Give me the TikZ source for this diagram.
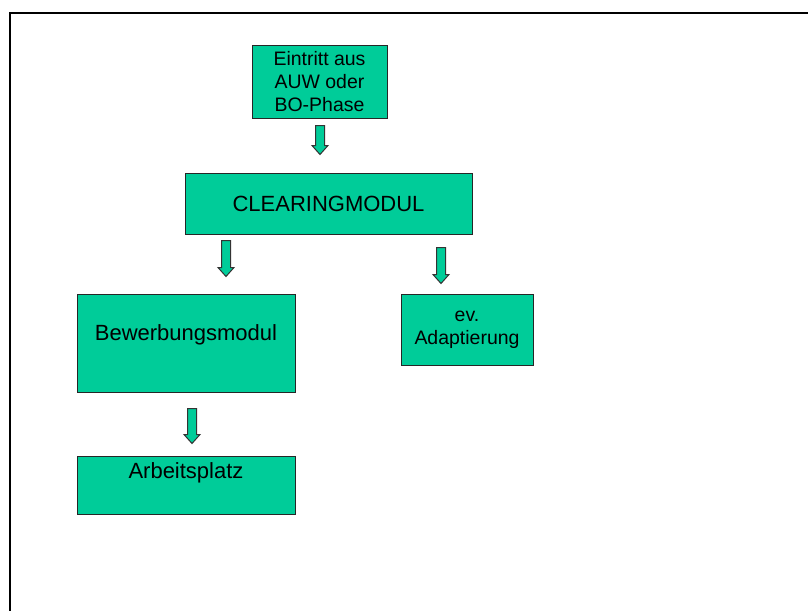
\documentclass[tikz,border=0pt]{standalone}
\usepackage{fontspec}
\setmainfont{Liberation Sans}
\usetikzlibrary{calc}
\definecolor{boxgreen}{RGB}{0,204,153}
\begin{document}
\begin{tikzpicture}[x=0.75pt,y=-0.75pt,
	box/.style={draw=black!85, fill=boxgreen, line width=0.75pt, inner sep=0pt, align=center},
	big/.style={font=\fontsize{16.5}{19.5}\selectfont},
	small/.style={font=\fontsize{14.6}{17.25}\selectfont},
	pics/downarrow/.style={code={\draw[draw=black!80, fill=boxgreen, line width=0.75pt] (-4.5,0) -- (4.5,0) -- (4.5,#1-9) -- (8,#1-9) -- (0,#1) -- (-8,#1-9) -- (-4.5,#1-9) -- cycle;}}]
	\useasboundingbox (0,0) rectangle (808,611);
	\draw[line width=1.5pt] (10.3,611) -- (10.3,12.5) -- (808,12.5);
	
	\node[box, small, minimum width=101.25pt, minimum height=54.75pt] (entry) at (319.5,81.5) {Eintritt aus\\AUW oder\\BO-Phase};
	\node[box, big, minimum width=215.25pt, minimum height=45.75pt] (clearing) at (328.5,203.5) {CLEARINGMODUL};
	\node[box, big, minimum width=163.5pt, text height=34.5pt, text depth=39pt] (bewerbung) at (186,343) {Bewerbungsmodul};
	\node[box, small, minimum width=99pt, minimum height=53.25pt] (adapt) at (467,329.5) {ev.\\Adaptierung};
	\node[box, big, minimum width=163.5pt, text height=16.5pt, text depth=27pt] (arbeit) at (186,485) {Arbeitsplatz};
	
	\pic at ($(320,0 |- entry.south)+(0,7)$) {downarrow=29};
	\pic at ($(226,0 |- clearing.south)+(0,6)$) {downarrow=36};
	\pic at ($(441,0 |- clearing.south)+(0,13)$) {downarrow=36};
	\pic at ($(192,0 |- bewerbung.south)+(0,16)$) {downarrow=35};
\end{tikzpicture}
\end{document}
